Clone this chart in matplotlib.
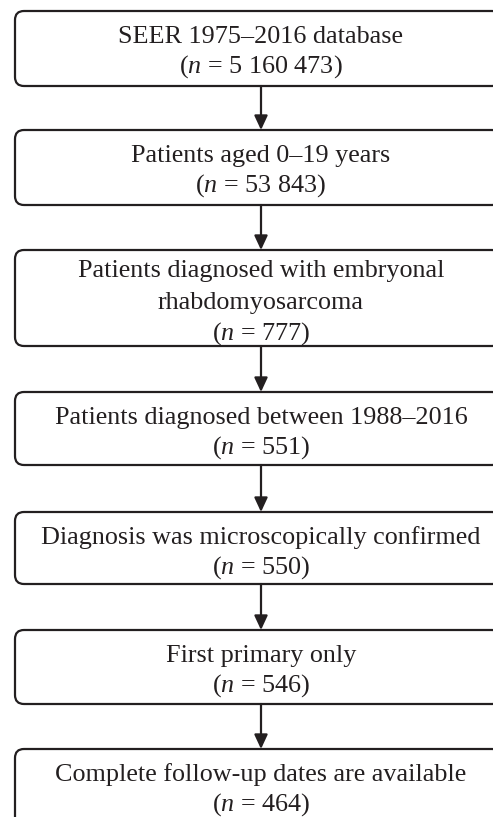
import matplotlib.pyplot as plt
from matplotlib.patches import FancyBboxPatch

plt.rcParams['font.family'] = 'Liberation Serif'
plt.rcParams['mathtext.fontset'] = 'custom'
plt.rcParams['mathtext.rm'] = 'Liberation Serif'
plt.rcParams['mathtext.it'] = 'Liberation Serif:italic'

# flowchart steps and patient counts
steps = [
    ['SEER 1975\u20132016 database'],
    ['Patients aged 0\u201319 years'],
    ['Patients diagnosed with embryonal', 'rhabdomyosarcoma'],
    ['Patients diagnosed between 1988\u20132016'],
    ['Diagnosis was microscopically confirmed'],
    ['First primary only'],
    ['Complete follow-up dates are available'],
]
counts = [5160473, 53843, 777, 551, 550, 546, 464]

# box layout in pixels (top, bottom), y measured from top of figure
box_tops = [11, 130, 250, 392, 512, 630, 749]
box_bottoms = [86, 205, 346, 465, 584, 704, 830]
x_left, x_right = 15, 501
x_arrow = 261
ink = '#231f20'

W, H = 493, 817
fig = plt.figure(figsize=(W / 100, H / 100), dpi=100)
ax = fig.add_axes([0, 0, 1, 1])
ax.set_xlim(0, W)
ax.set_ylim(H, 0)
ax.axis('off')

for i in range(len(steps)):
    top, bot = box_tops[i], box_bottoms[i]
    box = FancyBboxPatch((x_left, top), x_right - x_left, bot - top,
                         boxstyle='round,pad=0,rounding_size=9',
                         fc='white', ec=ink, lw=1.6)
    ax.add_patch(box)
    n_txt = '{:,}'.format(counts[i]).replace(',', ' ')
    lines = steps[i] + ['($n$ = ' + n_txt + ')']
    if len(lines) == 2:
        offs = [32, 62]
    else:
        offs = [27, 58.5, 90]
    for line, off in zip(lines, offs):
        ax.text(x_arrow, top + off, line, ha='center', va='baseline',
                fontsize=18.8, color=ink)

for i in range(len(steps) - 1):
    ax.annotate('', xy=(x_arrow, box_tops[i + 1]), xytext=(x_arrow, box_bottoms[i]),
                arrowprops=dict(arrowstyle='-|>,head_length=0.86,head_width=0.4',
                                mutation_scale=10, lw=1.6, color=ink,
                                shrinkA=0, shrinkB=0))

plt.savefig('out.png', dpi=100)
